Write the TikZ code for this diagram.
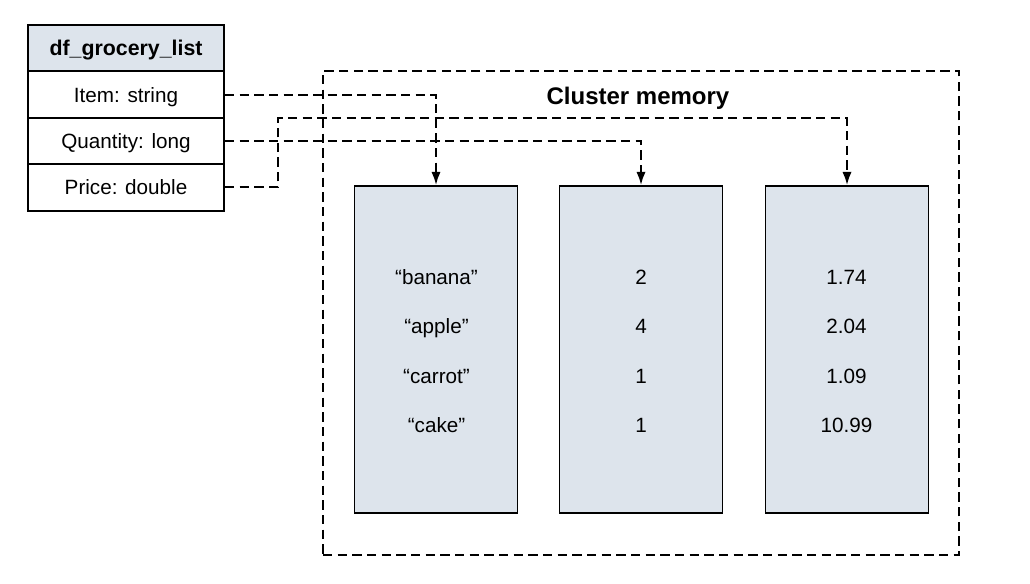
\documentclass[tikz,border=0pt]{standalone}
\usepackage{fontspec}
\setmainfont{Liberation Sans}
\usetikzlibrary{arrows.meta}
\definecolor{boxfill}{RGB}{221,228,236}
\begin{document}
\begin{tikzpicture}[x=0.75pt,y=-0.75pt,
  cell/.style={draw=black,line width=1.5pt,minimum width=147pt,minimum height=34.8pt,inner sep=0pt,text height=11.2pt,text depth=0pt,font=\fontsize{15.5}{18}\selectfont},
  headcell/.style={cell,fill=boxfill,text height=11.5pt,font=\fontsize{16}{19}\selectfont\bfseries},
  column/.style={draw=black,line width=1.3pt,fill=boxfill,minimum width=122.25pt,minimum height=245.25pt,inner sep=0pt},
  cluster/.style={draw=black,line width=1.3pt,dash pattern=on 7pt off 4pt,minimum width=477pt,minimum height=363pt,inner sep=0pt},
  val/.style={font=\fontsize{15.5}{18}\selectfont,inner sep=0pt,text height=11.2pt,text depth=0pt},
  link/.style={line width=1.5pt,dash pattern=on 7pt off 4pt,-{Latex[length=10pt,width=7pt]}}
]
\useasboundingbox (0,0) rectangle (1030,583);
% table
\node[headcell] (head) at (126,48) {df\_grocery\_list};
\node[cell] (item) at (126,94.6) {Item: string};
\node[cell] (qty) at (126,141) {Quantity: long};
\node[cell] (price) at (126,187.4) {Price: double};
% cluster
\node[cluster] (clu) at (641,313) {};
\node[font=\fontsize{18}{21}\selectfont\bfseries,inner sep=0pt,text height=12.9pt,text depth=0pt] (title) at (638,96) {Cluster memory};
% columns
\node[column] (c1) at (436,349.5) {};
\node[column] (c2) at (641,349.5) {};
\node[column] (c3) at (847,349.5) {};
% values
\node[val] (v11) at (436.5,277) {“banana”};
\node[val] (v12) at (436.5,326) {“apple”};
\node[val] (v13) at (436.5,376) {“carrot”};
\node[val] (v14) at (436.5,425) {“cake”};
\node[val] (v21) at (641,277) {2};
\node[val] (v22) at (641,326) {4};
\node[val] (v23) at (641,376) {1};
\node[val] (v24) at (641,425) {1};
\node[val] (v31) at (846.5,277) {1.74};
\node[val] (v32) at (846.5,326) {2.04};
\node[val] (v33) at (846.5,376) {1.09};
\node[val] (v34) at (846.5,425) {10.99};
% links
\coordinate (pb) at (278,118);
\draw[link] ([yshift=-0.3pt]item.east) -| (c1.north);
\draw[link] (qty.east) -| (c2.north);
\draw[link] ([yshift=0.3pt]price.east) -| (pb) -| (c3.north);
\end{tikzpicture}
\end{document}
